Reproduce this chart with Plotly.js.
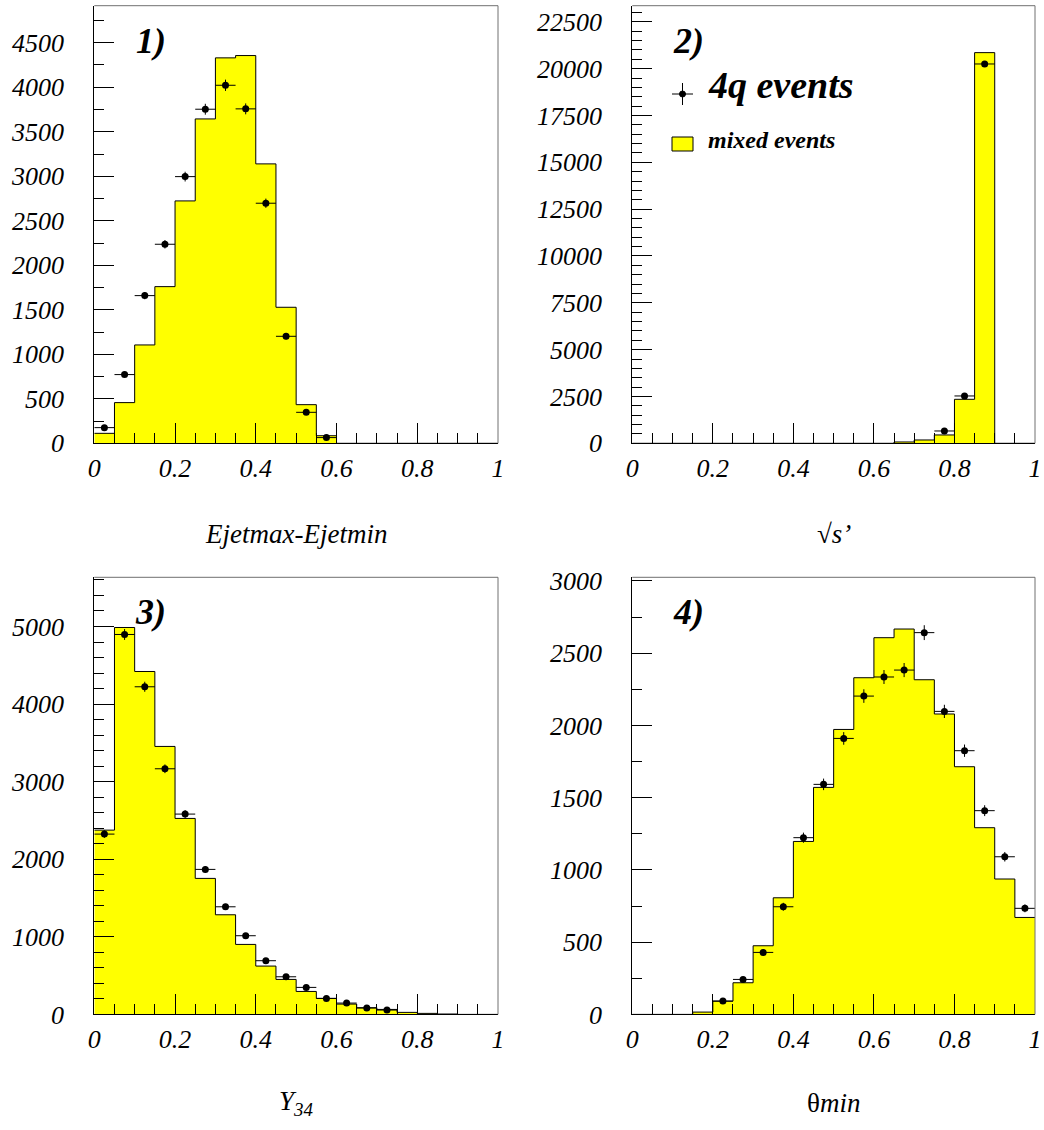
<!DOCTYPE html>
<html>
<head>
<meta charset="utf-8">
<script src="https://cdn.plot.ly/plotly-3.0.1.min.js"></script>
<style>
  html, body { margin: 0; padding: 0; background: #ffffff; }
  #chart { width: 1044px; height: 1130px; }
</style>
</head>
<body>
<div id="chart"></div>
<script>
// Bin layout shared by all four histograms (20 bins of width 0.05)
const binEdges = [0, 0.05, 0.1, 0.15, 0.2, 0.25, 0.3, 0.35, 0.4, 0.45, 0.5,
                  0.55, 0.6, 0.65, 0.7, 0.75, 0.8, 0.85, 0.9, 0.95, 1];
const binCenters = [0.025, 0.075, 0.125, 0.175, 0.225, 0.275, 0.325, 0.375, 0.425, 0.475,
                    0.525, 0.575, 0.625, 0.675, 0.725, 0.775, 0.825, 0.875, 0.925, 0.975];
const binHalfWidth = 0.025;

const xTickVals = [0, 0.2, 0.4, 0.6, 0.8, 1];
const xTickText = ['0', '0.2', '0.4', '0.6', '0.8', '1'];

// 1) Ejetmax-Ejetmin
const mixed1 = [112, 457, 1105, 1760, 2723, 3644, 4330, 4356, 3139, 1528,
                434, 85, 0, 0, 0, 0, 0, 0, 0, 0];
const quark1 = [176, 772, 1659, 2236, 2996, 3753, 4022, 3757, 2697, 1202,
                348, 64, null, null, null, null, null, null, null, null];
const yTicks1 = [0, 500, 1000, 1500, 2000, 2500, 3000, 3500, 4000, 4500];

// 2) sqrt(s')
const mixed2 = [0, 0, 0, 0, 0, 0, 0, 0, 0, 0,
                0, 0, 0, 71, 178, 445, 2349, 20854, 0, 0];
const quark2 = [null, null, null, null, null, null, null, null, null, null,
                null, null, null, null, null, 658, 2527, 20249, null, null];
const yTicks2 = [0, 2500, 5000, 7500, 10000, 12500, 15000, 17500, 20000, 22500];

// 3) Y34
const mixed3 = [2375, 4987, 4420, 3454, 2526, 1753, 1284, 902, 623, 451,
                296, 206, 133, 86, 64, 26, 13, 5, 0, 0];
const quark3 = [2324, 4897, 4223, 3166, 2582, 1869, 1387, 1014, 692, 485,
                348, 206, 146, 82, 56, null, null, null, null, null];
const yTicks3 = [0, 1000, 2000, 3000, 4000, 5000];

// 4) theta min
const mixed4 = [0, 0, 0, 16, 92, 219, 475, 807, 1197, 1571,
                1972, 2330, 2607, 2667, 2316, 2079, 1714, 1292, 937, 671];
const quark4 = [null, null, null, null, 92, 242, 429, 745, 1223, 1592,
                1910, 2203, 2335, 2383, 2642, 2097, 1825, 1410, 1091, 734];
const yTicks4 = [0, 500, 1000, 1500, 2000, 2500, 3000];

const W = 1044, H = 1130;
const px = x => x / W;
const py = y => 1 - y / H;

const FONT = '"Liberation Serif", "DejaVu Serif", serif';
const YELLOW = '#ffff00';

const panels = [
  { mixed: mixed1, quark: quark1, yTicks: yTicks1, yMax: 4916, minor: 250,
    xDom: [px(94.3), px(498)], yDom: [py(443.3), py(5.7)],
    tag: '1)', title: '<i>Ejetmax-Ejetmin</i>', titleY: 534 },
  { mixed: mixed2, quark: quark2, yTicks: yTicks2, yMax: 23360, minor: 500,
    xDom: [px(632.3), px(1035)], yDom: [py(443.3), py(5.7)],
    tag: '2)', title: '√<i>s’</i>', titleY: 534 },
  { mixed: mixed3, quark: quark3, yTicks: yTicks3, yMax: 5634, minor: 200,
    xDom: [px(94.3), px(498)], yDom: [py(1014.4), py(577.3)],
    tag: '3)', title: '<i>Y<sub>34</sub></i>', titleY: 1103 },
  { mixed: mixed4, quark: quark4, yTicks: yTicks4, yMax: 3025, minor: 250,
    xDom: [px(632.3), px(1035)], yDom: [py(1014.4), py(577.3)],
    tag: '4)', title: 'θ<i>min</i>', titleY: 1103 }
];

const traces = [];
const layout = {
  width: W, height: H,
  margin: { l: 0, r: 0, t: 0, b: 0 },
  paper_bgcolor: '#ffffff', plot_bgcolor: '#ffffff',
  showlegend: false,
  font: { family: FONT, color: '#000000' },
  annotations: [],
  shapes: []
};

panels.forEach((p, i) => {
  const n = i + 1;
  const xa = 'x' + (n === 1 ? '' : n), ya = 'y' + (n === 1 ? '' : n);
  const xKey = 'xaxis' + (n === 1 ? '' : n), yKey = 'yaxis' + (n === 1 ? '' : n);

  // mixed events: filled step outline
  traces.push({
    type: 'scatter', mode: 'lines', xaxis: xa, yaxis: ya,
    x: binEdges, y: p.mixed.concat([p.mixed[p.mixed.length - 1]]),
    line: { shape: 'hv', color: '#000000', width: 1 },
    fill: 'tozeroy', fillcolor: YELLOW,
    hoverinfo: 'skip'
  });

  // 4q events: points with error bars
  traces.push({
    type: 'scatter', mode: 'markers', xaxis: xa, yaxis: ya,
    x: binCenters, y: p.quark,
    marker: { symbol: 'circle', size: 7, color: '#000000' },
    error_y: { type: 'sqrt', color: '#000000', thickness: 1, width: 0 },
    error_x: { type: 'constant', value: binHalfWidth, color: '#000000', thickness: 1, width: 0 },
    hoverinfo: 'skip'
  });

  layout[xKey] = {
    domain: p.xDom, anchor: ya, range: [0, 1],
    tickmode: 'array', tickvals: xTickVals, ticktext: xTickText,
    ticks: 'inside', ticklen: 20, tickwidth: 1, tickcolor: '#000000',
    showline: true, linecolor: '#000000', linewidth: 1,
    showgrid: false, zeroline: false,
    tickfont: { family: FONT, size: 26, style: 'italic', color: '#000000' },
    ticklabelstandoff: 1,
    minor: { tickvals: binEdges, ticks: 'inside', ticklen: 10, tickwidth: 1,
             tickcolor: '#000000', showgrid: false },
    fixedrange: true
  };
  layout[yKey] = {
    domain: p.yDom, anchor: xa, range: [0, p.yMax],
    tickmode: 'array', tickvals: p.yTicks, ticktext: p.yTicks.map(String),
    ticks: 'inside', ticklen: 20, tickwidth: 1, tickcolor: '#000000',
    showline: true, linecolor: '#000000', linewidth: 1,
    showgrid: false, zeroline: false,
    tickfont: { family: FONT, size: 26, style: 'italic', color: '#000000' },
    ticklabelstandoff: 24,
    minor: { tick0: 0, dtick: p.minor, ticks: 'inside', ticklen: 10, tickwidth: 1,
             tickcolor: '#000000', showgrid: false },
    fixedrange: true
  };

  // top and right edges of the frame
  layout.shapes.push(
    { type: 'line', xref: xa + ' domain', yref: ya + ' domain', x0: 0, x1: 1, y0: 1, y1: 1,
      line: { color: '#707070', width: 1 } },
    { type: 'line', xref: xa + ' domain', yref: ya + ' domain', x0: 1, x1: 1, y0: 0, y1: 1,
      line: { color: '#707070', width: 1 } }
  );

  // panel number
  layout.annotations.push({
    xref: xa + ' domain', yref: ya + ' domain', x: 0.14, y: 0.92,
    xanchor: 'center', yanchor: 'middle', showarrow: false,
    text: '<b><i>' + p.tag + '</i></b>',
    font: { family: FONT, size: 36, color: '#000000' }
  });

  // axis title
  layout.annotations.push({
    xref: 'paper', yref: 'paper',
    x: (p.xDom[0] + p.xDom[1]) / 2, y: py(p.titleY),
    xanchor: 'center', yanchor: 'middle', showarrow: false,
    text: p.title,
    font: { family: FONT, size: 27, color: '#000000' }
  });
});

// Key drawn inside panel 2
layout.shapes.push(
  { type: 'line', xref: 'paper', yref: 'paper', x0: px(672), x1: px(693), y0: py(94), y1: py(94),
    line: { color: '#000000', width: 1 } },
  { type: 'line', xref: 'paper', yref: 'paper', x0: px(682.5), x1: px(682.5), y0: py(83), y1: py(105),
    line: { color: '#000000', width: 1 } },
  { type: 'circle', xref: 'paper', yref: 'paper', x0: px(679.5), x1: px(685.5), y0: py(91), y1: py(97),
    fillcolor: '#000000', line: { color: '#000000', width: 1 } },
  { type: 'rect', xref: 'paper', yref: 'paper', x0: px(672), x1: px(693), y0: py(151), y1: py(137),
    fillcolor: YELLOW, line: { color: '#000000', width: 1 } }
);
layout.annotations.push(
  { xref: 'paper', yref: 'paper', x: px(706), y: py(85), xanchor: 'left', yanchor: 'middle',
    showarrow: false, text: '<b><i>4q events</i></b>',
    font: { family: FONT, size: 38, color: '#000000' } },
  { xref: 'paper', yref: 'paper', x: px(706), y: py(140), xanchor: 'left', yanchor: 'middle',
    showarrow: false, text: '<b><i>mixed events</i></b>',
    font: { family: FONT, size: 24, color: '#000000' } }
);

Plotly.newPlot('chart', traces, layout, { staticPlot: true, displayModeBar: false });
</script>
</body>
</html>
